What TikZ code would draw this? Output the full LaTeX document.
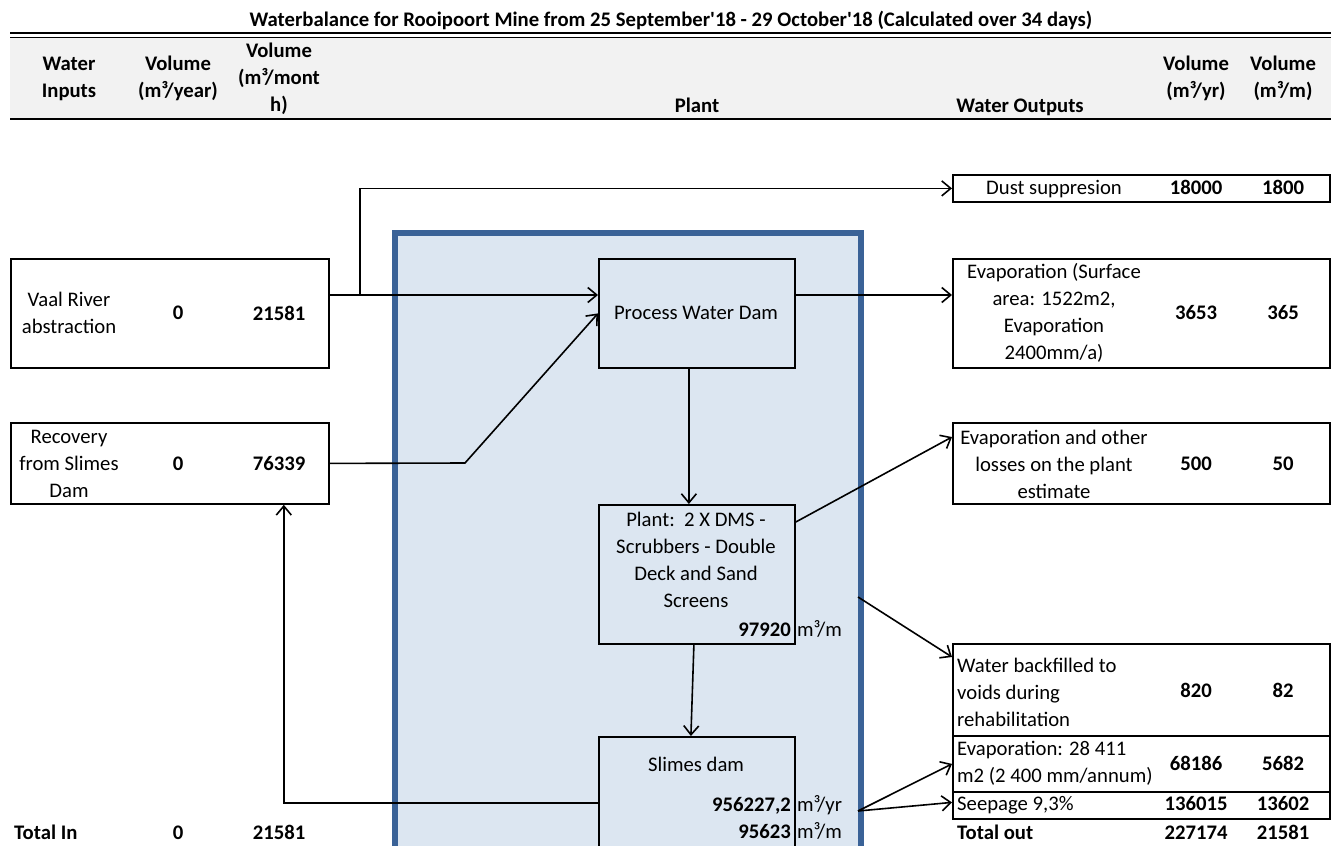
\documentclass[tikz,border=0pt]{standalone}
\usepackage{fontspec}
\setmainfont{Carlito}
\usetikzlibrary{arrows.meta}
\definecolor{bluefill}{HTML}{DCE6F1}
\definecolor{blueedge}{HTML}{3A6297}
\definecolor{hdrgray}{HTML}{F2F2F2}
\begin{document}
\begin{tikzpicture}[x=1pt,y=-1pt,
  box/.style={draw=black, line width=1.8pt, inner sep=0pt, anchor=north west},
  txt/.style={inner sep=0pt, align=center, font=\fontsize{20.7}{27}\selectfont},
  ltxt/.style={inner sep=0pt, align=left, anchor=west, font=\fontsize{20.7}{27}\selectfont},
  num/.style={inner sep=0pt, align=center, font=\fontsize{20.7}{27}\selectfont\bfseries},
  flow/.style={draw=black, line width=1.6pt, -{Straight Barb[length=9pt,width=15pt,line width=1.6pt]}}]
\clip (0,0) rectangle (1331,846);
% header
\fill[hdrgray] (10,37) rectangle (1331,119);
\draw[line width=1.6pt] (10,33) -- (1331,33);
\draw[line width=1.6pt] (10,37.5) -- (1331,37.5);
\draw[line width=2.2pt] (10,119) -- (1331,119);
\node[num] (title) at (671,20) {Waterbalance for Rooipoort Mine from 25 September\textquotesingle18 - 29 October\textquotesingle18 (Calculated over 34 days)};
\node[num] (h1) at (69,78.5) {Water\\Inputs};
\node[num] (h2) at (178,78.5) {Volume\\(m³/year)};
\node[num] (h3) at (279,78.5) {Volume\\(m³/mont\\h)};
\node[num, anchor=base] (h4) at (697,112.5) {Plant};
\node[num, anchor=base] (h5) at (1020,112.5) {Water Outputs};
\node[num] (h6) at (1196,78.5) {Volume\\(m³/yr)};
\node[num] (h7) at (1283,78.5) {Volume\\(m³/m)};
% plant area
\node[draw=blueedge, line width=6pt, fill=bluefill, anchor=north west, inner sep=0pt,
      minimum width=466pt, minimum height=660pt] (area) at (392,230) {};
% input boxes
\node[box, minimum width=318pt, minimum height=109pt] (vaal) at (10,258) {};
\node[txt] (vaalT) at (69,312.5) {Vaal River\\abstraction};
\node[num] (vaalA) at (178,313) {0};
\node[num] (vaalB) at (279,313) {21581};
\node[box, minimum width=318pt, minimum height=81pt] (recov) at (10,422) {};
\node[txt] (recovT) at (69,464) {Recovery\\from Slimes\\Dam};
\node[num] (recovA) at (178,464) {0};
\node[num] (recovB) at (279,464) {76339};
% plant boxes
\node[box, fill=bluefill, minimum width=196pt, minimum height=109pt] (pwd) at (598,258) {};
\node[txt] (pwdT) at (696,313) {Process Water Dam};
\node[box, fill=bluefill, minimum width=196pt, minimum height=139pt] (plant) at (598,504) {};
\node[txt] (plantT) at (696,560) {Plant:\ \ 2 X DMS -\\Scrubbers - Double\\Deck and Sand\\Screens};
\node[num, anchor=base east] (plantV) at (791,636.6) {97920};
\node[txt, anchor=base west] (plantU) at (797,636.6) {m³/m};
\node[box, fill=bluefill, minimum width=196pt, minimum height=140pt] (slimes) at (598,736) {};
\node[txt] (slimesT) at (696,764) {Slimes dam};
\node[num, anchor=base east] (slimesV1) at (791,811.6) {956227,2};
\node[txt, anchor=base west] (slimesU1) at (797,811.6) {m³/yr};
\node[num, anchor=base east] (slimesV2) at (791,838.6) {95623};
\node[txt, anchor=base west] (slimesU2) at (797,838.6) {m³/m};
% output boxes
\node[box, minimum width=377pt, minimum height=27pt] (dust) at (952,174) {};
\node[txt, anchor=base] (dustT) at (1054,194.6) {Dust suppresion};
\node[num, anchor=base] (dustA) at (1196,194.6) {18000};
\node[num, anchor=base] (dustB) at (1283,194.6) {1800};
\node[box, minimum width=377pt, minimum height=109pt] (evap) at (952,258) {};
\node[txt] (evapT) at (1054,312.5) {Evaporation (Surface\\area: 1522m2,\\Evaporation\\2400mm/a)};
\node[num] (evapA) at (1196,313) {3653};
\node[num] (evapB) at (1283,313) {365};
\node[box, minimum width=377pt, minimum height=81pt] (evapo) at (952,422) {};
\node[txt] (evapoT) at (1054,464) {Evaporation and other\\losses on the plant\\estimate};
\node[num] (evapoA) at (1196,464) {500};
\node[num] (evapoB) at (1283,464) {50};
\node[box, minimum width=377pt, minimum height=92pt] (back) at (952,643) {};
\node[ltxt] (backT) at (957,692) {Water backfilled to\\voids during\\rehabilitation};
\node[num] (backA) at (1196,690) {820};
\node[num] (backB) at (1283,690) {82};
\node[box, minimum width=377pt, minimum height=56pt] (evap28) at (952,735) {};
\node[ltxt] (evap28T) at (957,763) {Evaporation: 28 411\\m2 (2 400 mm/annum)};
\node[num] (evap28A) at (1196,763) {68186};
\node[num] (evap28B) at (1283,763) {5682};
\node[box, minimum width=377pt, minimum height=27pt] (seep) at (952,791) {};
\node[txt, anchor=base west] (seepT) at (957,810.6) {Seepage 9,3\%};
\node[num, anchor=base] (seepA) at (1196,810.6) {136015};
\node[num, anchor=base] (seepB) at (1283,810.6) {13602};
% totals
\node[num, anchor=base west] (totin) at (14,839.6) {Total In};
\node[num, anchor=base] (totinA) at (178,839.6) {0};
\node[num, anchor=base] (totinB) at (279,839.6) {21581};
\node[num, anchor=base west] (totout) at (957,839.6) {Total out};
\node[num, anchor=base] (totoutA) at (1196,839.6) {227174};
\node[num, anchor=base] (totoutB) at (1283,839.6) {21581};
% connectors
\coordinate (bend1) at (465,463);
\coordinate (c1) at (858,597);
\coordinate (c2) at (858,811);
\draw[flow] ([yshift=-37pt]vaal.north east) -- ([yshift=-37pt]pwd.north west);
\draw[flow] ([xshift=30pt,yshift=-37pt]vaal.north east) |- (dust.west);
\draw[flow] (recov.east) -- (bend1) -- (pwd.west);
\draw[flow] ([yshift=-37pt]pwd.north east) -- ([yshift=-37pt]evap.north west);
\draw[flow] ([xshift=-8pt]pwd.south) -- ([xshift=-8pt]plant.north);
\draw[flow] ([yshift=-18pt]plant.north east) -- ([yshift=-15pt]evapo.north west);
\draw[flow] (c1) -- ([yshift=-14pt]back.north west);
\draw[flow] ([xshift=-3pt]plant.south) -- ([xshift=-6pt]slimes.north);
\draw[flow] (c2) -- (evap28.west);
\draw[flow] (c2) -- ([yshift=3pt]seep.west);
\draw[flow] ([yshift=-67pt]slimes.north west) -| ([xshift=-46pt]recov.south east);
\end{tikzpicture}
\end{document}
